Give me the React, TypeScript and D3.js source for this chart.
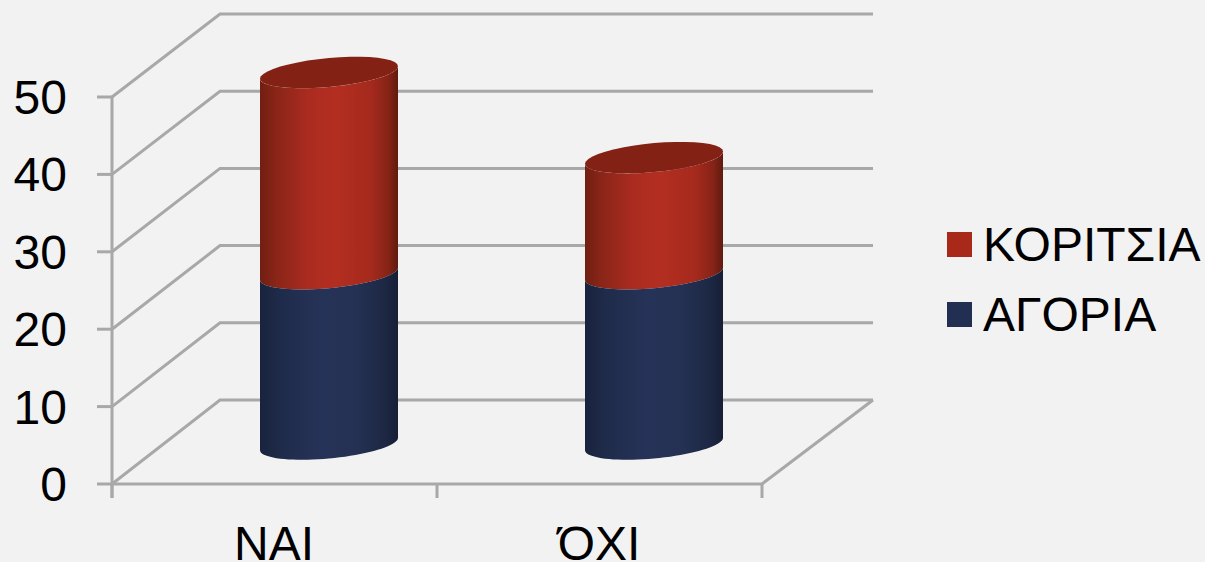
import React from "react";
import * as d3 from "d3";

const categories = ["ΝΑΙ", "ΌΧΙ"];
const seriesBoys = [22, 22];
const seriesGirls = [26, 15];
const yTicks = [0, 10, 20, 30, 40, 50];
const legendItems = ["ΚΟΡΙΤΣΙΑ", "ΑΓΟΡΙΑ"];

const W = 1205, H = 562;
const front = d3.scaleLinear().domain([0, 50]).range([484, 97]);
const backY = d3.scaleLinear().domain([0, 50]).range([400, 14]);
const barY = d3.scaleLinear().domain([0, 50]).range([444, 57]);
const xBand = d3.scalePoint<string>().domain(categories).range([329, 654]);
const xTicks = [112, 437, 762];
const leftX = 112, backL = 220, backR = 873, frontR = 762;
const grid = "#a8a8a8";
const font = "'Liberation Sans', Arial, sans-serif";
const RX = 69, RY = 14.5, SLOPE = 0.09;

const pt = (cx: number, cy: number, t: number): [number, number] => {
  const dx = RX * Math.cos(t);
  return [cx + dx, cy - SLOPE * dx + RY * Math.sin(t)];
};
const line = d3.line();
const arc = (cx: number, cy: number, a: number, b: number) =>
  d3.range(0, 41).map((i) => pt(cx, cy, a + ((b - a) * i) / 40));
const segment = (cx: number, y0: number, y1: number) =>
  line([...arc(cx, y0, Math.PI, 0), ...arc(cx, y1, 0, Math.PI)]) + "Z";
const cap = (cx: number, cy: number) => line(arc(cx, cy, 0, 2 * Math.PI)) + "Z";

const Grad = ({ id, stops }: { id: string; stops: [number, string][] }) => (
  <linearGradient id={id} x1="0" x2="1" y1="0" y2="0">
    {stops.map(([o, c]) => <stop key={o} offset={o} stopColor={c} />)}
  </linearGradient>
);

export default function App() {
  return (
    <svg width={W} height={H} style={{ position: "fixed", left: 0, top: 0, display: "block" }}>
      <defs>
        <Grad id="red" stops={[[0, "#701f12"], [0.12, "#8a2518"], [0.35, "#ab2b20"], [0.55, "#b32e21"], [0.8, "#a52a1d"], [0.93, "#862317"], [1, "#5f1a0f"]]} />
        <Grad id="blue" stops={[[0, "#19233d"], [0.15, "#1f2b4a"], [0.45, "#263358"], [0.7, "#243153"], [0.9, "#1d2844"], [1, "#171f36"]]} />
      </defs>
      <rect width={W} height={H} fill="#f2f2f2" />
      <g stroke={grid} strokeWidth={3} fill="none">
        {yTicks.map((t) => (
          <path key={t} d={line([[leftX, front(t)], [backL, backY(t)], [backR, backY(t)]])!} />
        ))}
        <path d={line([[leftX, front(0)], [frontR, front(0)], [backR, backY(0)]])!} />
        <path d={line([[leftX, front(50)], [leftX, front(0) + 14]])!} />
        {yTicks.map((t) => (
          <path key={t} d={line([[leftX - 15, front(t)], [leftX, front(t)]])!} />
        ))}
        {xTicks.map((x) => (
          <path key={x} d={line([[x, front(0)], [x, front(0) + 14]])!} />
        ))}
      </g>
      {categories.map((c, i) => {
        const cx = xBand(c)!;
        const y0 = barY(0);
        const y1 = barY(seriesBoys[i]);
        const y2 = barY(seriesBoys[i] + seriesGirls[i]);
        return (
          <g key={c}>
            <path d={segment(cx, y1, y2)} fill="url(#red)" />
            <path d={segment(cx, y0, y1)} fill="url(#blue)" />
            <path d={cap(cx, y2)} fill="#822114" />
          </g>
        );
      })}
      <g fontFamily={font} fontSize={48} fill="#000">
        {yTicks.map((t) => (
          <text key={t} x={67} y={front(t) + 17} textAnchor="end">{t}</text>
        ))}
        {categories.map((c, i) => (
          <text key={c} x={xTicks[i] + 162} y={560} textAnchor="middle">{c}</text>
        ))}
        {legendItems.map((l, i) => (
          <g key={l}>
            <rect x={947} y={232 + i * 70} width={25} height={25} fill={i === 0 ? "#a8281a" : "#222f52"} />
            <text x={983} y={261 + i * 70}>{l}</text>
          </g>
        ))}
      </g>
    </svg>
  );
}
